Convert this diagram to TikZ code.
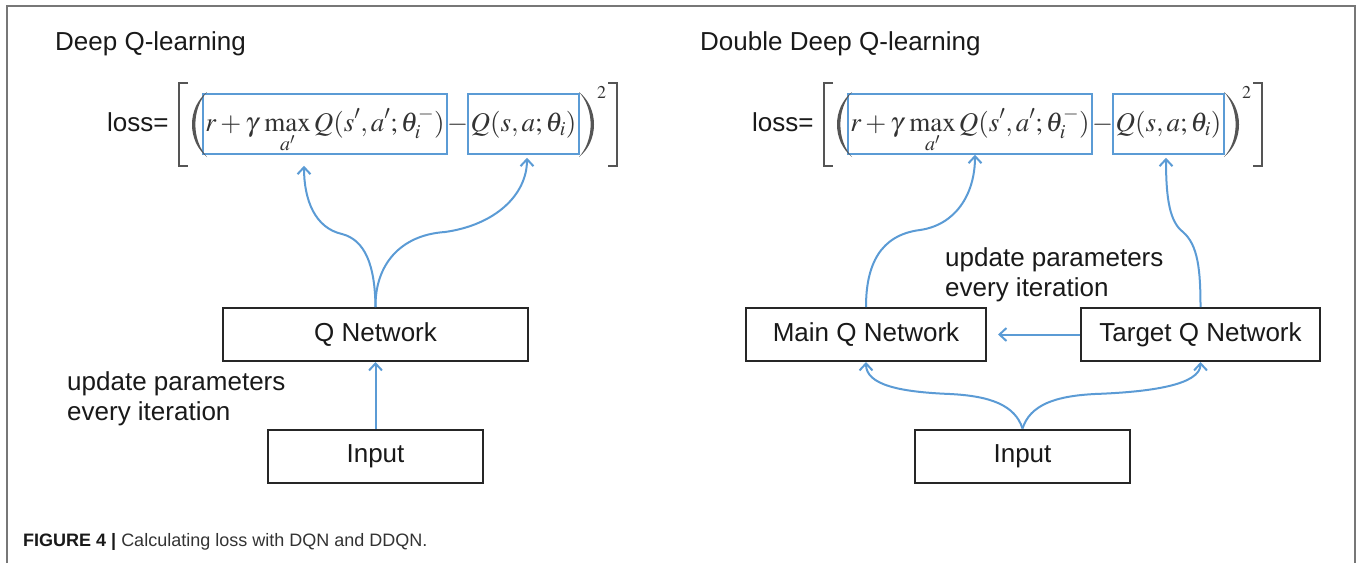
\documentclass[tikz,border=0pt]{standalone}
\usepackage{amsmath}
\usepackage{mathptmx}
\usepackage[no-math]{fontspec}
\setmainfont{Liberation Sans}
\usepackage{xcolor}
\usepackage{tikz}
\usetikzlibrary{arrows.meta,positioning,calc}

\definecolor{qblue}{HTML}{5B9BD5}
\definecolor{delimgray}{HTML}{555555}
\definecolor{eqgray}{HTML}{333333}
\definecolor{framegray}{HTML}{777777}

\begin{document}
\begin{tikzpicture}[
    x=1pt, y=-1pt,
    netbox/.style={draw=black!85, line width=2pt, minimum height=53pt, inner sep=0pt, text=black!90, font=\fontsize{26}{30}\selectfont},
    qterm/.style={draw=qblue, line width=1.5pt, inner sep=0pt, text height=37pt, text depth=23pt, text=eqgray, font=\fontsize{27}{30}\selectfont, anchor=base},
    lbl/.style={anchor=west, inner sep=0pt, text=black!90, font=\fontsize{26}{29.5}\selectfont, align=left},
    arrow/.style={-{Straight Barb[length=7pt,width=13pt]}, draw=qblue, line width=2pt},
    delim/.style={draw=delimgray, line width=2.5pt}
]
\useasboundingbox (0,0) rectangle (1357,563);
\draw[framegray, line width=2pt] (7,563) -- (7,6) -- (1355,6) -- (1355,563);

\node[lbl] (dqntitle) at (55,44) {Deep Q-learning};
\node[lbl] (ddqntitle) at (700,44) {Double Deep Q-learning};

\foreach \s/\dx in {l/0, r/645}{
  \begin{scope}[xshift=\dx pt]
    \node[lbl] (loss\s) at (107,122.5) {loss=};
    \node[qterm, minimum width=244pt] (tgt\s) at (325,131) {$\displaystyle r+\gamma\,\max_{a'}Q(s',a';\theta_i^-)$};
    \node[qterm, minimum width=111pt] (cur\s) at (523.5,131) {$Q(s,a;\theta_i)$};
    \node[anchor=base, inner sep=0pt, text=eqgray, font=\fontsize{27}{30}\selectfont] (minus\s) at (457.5,131) {$-$};
    \draw[delim] (188,83) -- (179,83) -- (179,166) -- (188,166);
    \draw[delim] (608,83) -- (617,83) -- (617,166) -- (608,166);
    \fill[delimgray] (207,92) .. controls (187,108) and (187,141) .. (207,157) .. controls (191.5,140) and (191.5,109) .. (207,92);
    \fill[delimgray] (579,92) .. controls (599,108) and (599,141) .. (579,157) .. controls (594.5,140) and (594.5,109) .. (579,92);
    \node[inner sep=0pt, text=eqgray, font=\fontsize{18}{18}\selectfont] (sq\s) at (601.5,92.5) {$2$};
  \end{scope}
}

\node[netbox, minimum width=305pt] (qnet) at (375.5,334.5) {Q Network};
\node[netbox, minimum width=215pt] (inl) at (375.5,456) {Input};
\node[lbl] (updl) at (67,399) {update parameters\\every iteration};

\node[netbox, minimum width=240pt] (mainq) at (866,334.5) {Main Q Network};
\node[netbox, minimum width=239pt] (targetq) at (1200.5,334.5) {Target Q Network};
\node[netbox, minimum width=215pt] (inr) at (1022.5,456) {Input};
\node[lbl] (updr) at (945,275) {update parameters\\every iteration};

\draw[arrow] (inl) -- (qnet);
\draw[arrow, shorten >=11pt] (qnet.north) .. controls (375,265) and (365,240) .. (342,234) .. controls (315,228) and (304,200) .. ([xshift=-21pt]tgtl.south);
\draw[arrow, shorten >=3pt] (qnet.north) .. controls (375,265) and (400,235) .. (445,232) .. controls (495,225) and (527,195) .. ([xshift=3.5pt]curl.south);

\draw[arrow, shorten >=11pt] (targetq) -- (mainq);
\draw[arrow] (mainq.north) .. controls (866,265) and (880,235) .. (920,230) .. controls (955,225) and (975,195) .. ([xshift=5pt]tgtr.south);
\draw[arrow, shorten >=3pt] (targetq.north) .. controls (1200.5,270) and (1198,245) .. (1183,232) .. controls (1170,222) and (1166,200) .. ([xshift=-2.5pt]curr.south);
\draw[arrow] (inr.north) .. controls (1015,405) and (990,396) .. (950,394) .. controls (900,392) and (866,385) .. (mainq.south);
\draw[arrow] (inr.north) .. controls (1030,405) and (1055,396) .. (1095,394) .. controls (1150,392) and (1200.5,385) .. (targetq.south);

\node[anchor=west, inner sep=0pt, font=\fontsize{18}{20}\selectfont, text=eqgray] (caption) at (23,542) {\textcolor{black!90}{\textbf{FIGURE 4 |}} Calculating loss with DQN and DDQN.};
\end{tikzpicture}
\end{document}
